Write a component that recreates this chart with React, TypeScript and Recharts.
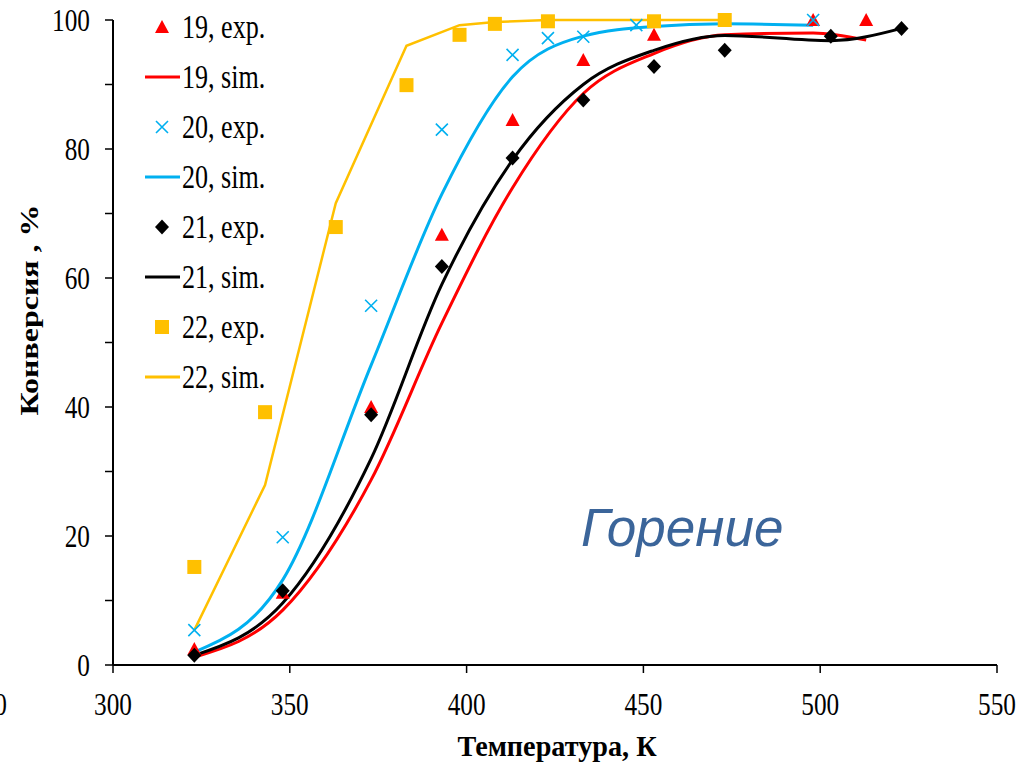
import React from "react";
import {
  ComposedChart,
  Line,
  Scatter,
  XAxis,
  YAxis,
  Legend,
} from "recharts";

// temperatures, K
const t19 = [323, 348, 373, 393, 413, 433, 453, 498, 513];
const exp19 = [2.5, 11.2, 40, 66.7, 84.5, 93.8, 97.7, 100, 100];
const tSim19 = [323, 348, 373, 393, 413, 433, 453, 473, 498, 513];
const sim19 = [1.2, 8.5, 28.7, 53, 74, 88.6, 94.8, 97.7, 98, 96.9];

const t20 = [323, 348, 373, 393, 413, 423, 433, 448, 498];
const exp20 = [5.4, 19.8, 55.7, 83, 94.6, 97.2, 97.4, 99.2, 100];
const tSim20 = [323, 348, 373, 393, 413, 433, 453, 473, 498];
const sim20 = [2, 13.2, 46.5, 73, 91.2, 97.5, 99, 99.4, 99.2];

const t21 = [323, 348, 373, 393, 413, 433, 453, 473, 503, 523];
const exp21 = [1.5, 11.5, 38.8, 61.8, 78.6, 87.6, 92.8, 95.3, 97.5, 98.7];
const sim21 = [1.5, 9.6, 32, 59, 78.3, 90, 95.3, 97.6, 96.8, 98.7];

const t22 = [323, 343, 363, 383, 398, 408, 423, 453, 473];
const exp22 = [15.2, 39.2, 67.9, 89.9, 97.7, 99.4, 99.8, 99.8, 100];
const sim22 = [5.4, 27.9, 71.6, 96, 99.2, 99.7, 100, 100, 100];

const xTicks = [300, 350, 400, 450, 500, 550];
const yTicks = [0, 10, 20, 30, 40, 50, 60, 70, 80, 90, 100];

const legendItems = [
  { label: "19, exp.", kind: "triangle", color: "#ff0000" },
  { label: "19, sim.", kind: "line", color: "#ff0000" },
  { label: "20, exp.", kind: "x", color: "#00b0f0" },
  { label: "20, sim.", kind: "line", color: "#00b0f0" },
  { label: "21, exp.", kind: "diamond", color: "#000000" },
  { label: "21, sim.", kind: "line", color: "#000000" },
  { label: "22, exp.", kind: "square", color: "#ffc000" },
  { label: "22, sim.", kind: "line", color: "#ffc000" },
];

const zip = (xs: number[], ys: number[]) => xs.map((x, i) => ({ x, y: ys[i] }));

const serif = "'Liberation Serif', 'Times New Roman', serif";
const squeeze = 0.79; // the reference's serif text is narrow

function Marker({ kind, cx, cy, color }: { kind: string; cx: number; cy: number; color: string }) {
  if (kind === "triangle")
    return <polygon points={`${cx},${cy - 7} ${cx + 7},${cy + 6} ${cx - 7},${cy + 6}`} fill={color} />;
  if (kind === "x")
    return (
      <path
        d={`M${cx - 6},${cy - 6}L${cx + 6},${cy + 6}M${cx + 6},${cy - 6}L${cx - 6},${cy + 6}`}
        stroke={color}
        strokeWidth={1.6}
      />
    );
  if (kind === "diamond")
    return <polygon points={`${cx},${cy - 7.5} ${cx + 7},${cy} ${cx},${cy + 7.5} ${cx - 7},${cy}`} fill={color} />;
  if (kind === "square") return <rect x={cx - 7} y={cy - 7} width={14} height={14} fill={color} />;
  return null;
}

const shapeOf = (kind: string, color: string) => (p: any) =>
  <Marker kind={kind} cx={p.cx} cy={p.cy} color={color} />;

function LegendBox() {
  return (
    <div style={{ fontFamily: serif, fontSize: 33 }}>
      {legendItems.map((it) => (
        <div key={it.label} style={{ height: 50, display: "flex", alignItems: "center" }}>
          <svg width={42} height={20}>
            {it.kind === "line" ? (
              <line x1={5} x2={40} y1={10} y2={10} stroke={it.color} strokeWidth={3} />
            ) : (
              <Marker kind={it.kind} cx={22} cy={10} color={it.color} />
            )}
          </svg>
          <span
            style={{
              color: "#000",
              display: "inline-block",
              whiteSpace: "nowrap",
              transform: `scaleX(${squeeze})`,
              transformOrigin: "left center",
            }}
          >
            {it.label}
          </span>
        </div>
      ))}
    </div>
  );
}

const YTick = (p: any) => {
  const v = p.payload.value;
  if (v % 20 !== 0) return null;
  return (
    <text
      transform={`translate(${p.x},${p.y}) scale(${squeeze},1)`}
      textAnchor="end"
      dominantBaseline="central"
      fontFamily={serif}
      fontSize={32}
      fill="#000"
    >
      {v}
    </text>
  );
};

const XTick = (p: any) => (
  <text
    transform={`translate(${p.x},${p.y + 27}) scale(${squeeze},1)`}
    textAnchor="middle"
    dominantBaseline="central"
    fontFamily={serif}
    fontSize={32}
    fill="#000"
  >
    {p.payload.value}
  </text>
);

export default function App() {
  return (
    <div style={{ position: "absolute", left: 0, top: 0, width: 1025, height: 764, background: "#fff" }}>
      <ComposedChart width={1025} height={764} margin={{ top: 20, right: 28, bottom: 0, left: 0 }}>
        <XAxis
          type="number"
          dataKey="x"
          domain={[300, 550]}
          ticks={xTicks}
          allowDataOverflow
          height={99}
          tick={XTick}
          tickSize={8}
          tickMargin={4}
          axisLine={{ stroke: "#000", strokeWidth: 2 }}
          tickLine={{ stroke: "#000", strokeWidth: 1.5 }}
          label={{
            content: () => (
              <text
                transform="translate(557,746) scale(0.94,1)"
                textAnchor="middle"
                dominantBaseline="central"
                fontFamily={serif}
                fontWeight="bold"
                fontSize={30}
                fill="#000"
              >
                Температура, К
              </text>
            ),
          }}
        />
        <YAxis
          type="number"
          domain={[0, 100]}
          ticks={yTicks}
          width={113}
          tick={YTick}
          tickSize={8}
          tickMargin={15}
          axisLine={{ stroke: "#000", strokeWidth: 2 }}
          tickLine={{ stroke: "#000", strokeWidth: 1.5 }}
          label={{
            content: () => (
              <text
                transform={`translate(29,310) scale(${squeeze},1) rotate(-90)`}
                textAnchor="middle"
                dominantBaseline="central"
                fontFamily={serif}
                fontWeight="bold"
                fontSize={32}
                fill="#000"
              >
                Конверсия , %
              </text>
            ),
          }}
        />
        <Legend
          layout="vertical"
          align="center"
          verticalAlign="middle"
          wrapperStyle={{ left: 140, top: 2, width: 180 }}
          content={() => <LegendBox />}
        />
        <Line data={zip(tSim19, sim19)} dataKey="y" type="monotone" stroke="#ff0000" strokeWidth={3} dot={false} activeDot={false} isAnimationActive={false} />
        <Line data={zip(tSim20, sim20)} dataKey="y" type="monotone" stroke="#00b0f0" strokeWidth={3} dot={false} activeDot={false} isAnimationActive={false} />
        <Line data={zip(t21, sim21)} dataKey="y" type="monotone" stroke="#000000" strokeWidth={3} dot={false} activeDot={false} isAnimationActive={false} />
        <Line data={zip(t22, sim22)} dataKey="y" type="linear" stroke="#ffc000" strokeWidth={2.5} dot={false} activeDot={false} isAnimationActive={false} />
        <Scatter data={zip(t19, exp19)} dataKey="y" shape={shapeOf("triangle", "#ff0000")} isAnimationActive={false} />
        <Scatter data={zip(t20, exp20)} dataKey="y" shape={shapeOf("x", "#00b0f0")} isAnimationActive={false} />
        <Scatter data={zip(t21, exp21)} dataKey="y" shape={shapeOf("diamond", "#000000")} isAnimationActive={false} />
        <Scatter data={zip(t22, exp22)} dataKey="y" shape={shapeOf("square", "#ffc000")} isAnimationActive={false} />
      </ComposedChart>
      <div
        style={{
          position: "absolute",
          right: 1025 - 7,
          top: 686,
          fontFamily: serif,
          fontSize: 32,
          lineHeight: "36px",
          transform: `scaleX(${squeeze})`,
          transformOrigin: "right center",
        }}
      >
        250
      </div>
      <div
        style={{
          position: "absolute",
          left: 581,
          top: 496,
          fontFamily: "'Liberation Sans', Arial, sans-serif",
          fontStyle: "italic",
          fontSize: 53,
          lineHeight: "64px",
          color: "#3b659a",
        }}
      >
        Горение
      </div>
    </div>
  );
}
